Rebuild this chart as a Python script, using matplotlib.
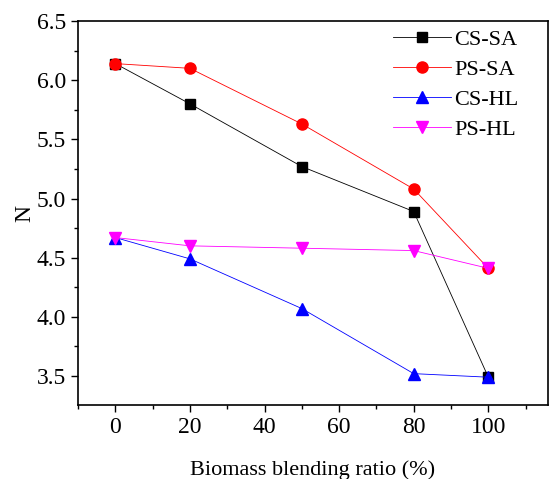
import numpy as np
import matplotlib.pyplot as plt
from matplotlib.ticker import MultipleLocator

plt.rcParams['font.family'] = 'Liberation Serif'
plt.rcParams['mathtext.fontset'] = 'stix'

# blending ratio of biomass (%)
ratio = [0, 20, 50, 80, 100]
cs_sa = [6.14, 5.80, 5.27, 4.89, 3.49]
ps_sa = [6.14, 6.10, 5.63, 5.08, 4.41]
cs_hl = [4.67, 4.49, 4.07, 3.52, 3.49]
ps_hl = [4.67, 4.60, 4.58, 4.56, 4.41]

fig = plt.figure(figsize=(5.49, 4.79), dpi=100)
ax = fig.add_axes([78/549, 1 - 405/479, 470/549, 384/479])

ax.plot(ratio, cs_sa, color='black', lw=0.6, marker='s', ms=7, label='CS-SA')
ax.plot(ratio, ps_sa, color='red', lw=0.6, marker='o', ms=8, label='PS-SA')
ax.plot(ratio, cs_hl, color='blue', lw=0.6, marker='^', ms=8, label='CS-HL')
ax.plot(ratio, ps_hl, color='magenta', lw=0.6, marker='v', ms=8, label='PS-HL')

ax.set_xlim(-10, 116)
ax.set_ylim(3.255, 6.5)
ax.xaxis.set_major_locator(MultipleLocator(20))
ax.xaxis.set_minor_locator(MultipleLocator(10))
ax.yaxis.set_minor_locator(MultipleLocator(0.25))
ax.set_yticks(np.arange(3.5, 6.51, 0.5))
ax.set_yticklabels([f'{v:.1f}' for v in np.arange(3.5, 6.51, 0.5)])
ax.tick_params(which='major', direction='out', length=5, width=1, labelsize=17)
ax.tick_params(which='minor', direction='out', length=3, width=1)
for s in ax.spines.values():
    s.set_linewidth(1.2)

ax.set_xlabel('Biomass blending ratio (%)', fontsize=16, labelpad=16)
ax.set_ylabel('N', fontsize=17, labelpad=1)

ax.legend(loc='upper right', frameon=False, fontsize=16, handlelength=2.6,
          handletextpad=0.15, labelspacing=0.42, borderaxespad=0.2,
          bbox_to_anchor=(0.965, 1.013))

fig.savefig('out.png', dpi=100)
